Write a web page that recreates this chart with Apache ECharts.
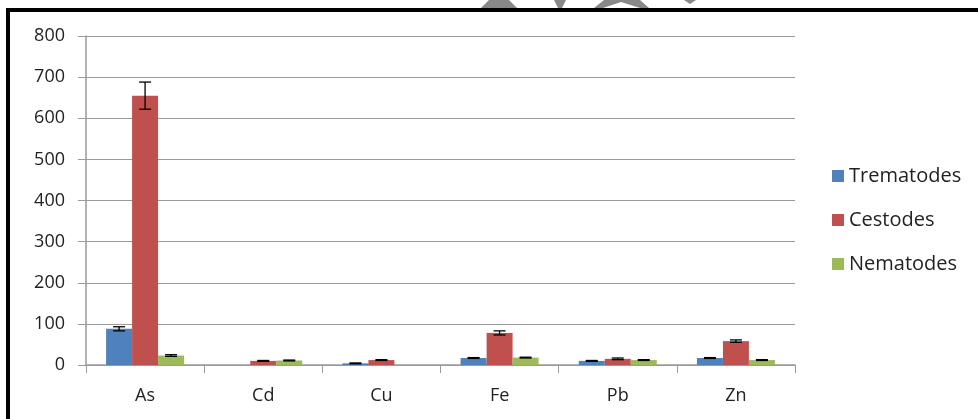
<!DOCTYPE html>
<html>
<head>
<meta charset="utf-8">
<script src="https://cdn.jsdelivr.net/npm/echarts@6/dist/echarts.min.js"></script>
<style>
  html, body { margin: 0; padding: 0; background: #fff; }
  #chart { width: 978px; height: 419px; }
</style>
</head>
<body>
<div id="chart"></div>
<script>
// metals on the x axis
const categories = ["As", "Cd", "Cu", "Fe", "Pb", "Zn"];
const seriesNames = ["Trematodes", "Cestodes", "Nematodes"];
const colors = ["#4F81BD", "#C0504D", "#9BBB59"];

// means
const trematodes = [88, 0, 4, 17, 10, 17];
const cestodes = [655, 10, 12, 78, 15, 58];
const nematodes = [23, 11, 0, 18, 12, 12];

// error bar half-lengths
const trematodesErr = [5, 0, 1, 1, 1, 1];
const cestodesErr = [33, 1, 1, 5, 2, 3];
const nematodesErr = [2, 1, 0, 1, 1, 1];

const yTicks = [0, 100, 200, 300, 400, 500, 600, 700, 800];

const values = [trematodes, cestodes, nematodes];
const errors = [trematodesErr, cestodesErr, nematodesErr];
const catGap = 0.34;

const chart = echarts.init(document.getElementById("chart"));

const barSeries = seriesNames.map((name, i) => ({
  name,
  type: "bar",
  data: values[i],
  barGap: "0%",
  barCategoryGap: "34%",
  itemStyle: { color: colors[i] },
  z: 2
}));

//误差线用custom画,值为0的不画
const errSeries = seriesNames.map((name, i) => ({
  type: "custom",
  name: name + "_err",
  data: values[i].map((v, k) => [k, v, errors[i][k]]),
  z: 5,
  silent: true,
  renderItem(params, api) {
    const k = api.value(0);
    const v = api.value(1);
    const e = api.value(2);
    if (!v || !e) return null;
    const catW = api.size([1, 0])[0];
    const bw = catW * (1 - catGap) / 3;
    const center = api.coord([k, v]);
    const x = center[0] + (i - 1) * bw;
    const top = api.coord([k, v + e])[1];
    const bot = api.coord([k, Math.max(v - e, 0)])[1];
    const half = 6;
    const style = { stroke: "#000", lineWidth: 1.3 };
    return {
      type: "group",
      children: [
        { type: "line", shape: { x1: x, y1: top, x2: x, y2: bot }, style },
        { type: "line", shape: { x1: x - half, y1: top, x2: x + half, y2: top }, style },
        { type: "line", shape: { x1: x - half, y1: bot, x2: x + half, y2: bot }, style }
      ]
    };
  }
}));

const option = {
  animation: false,
  textStyle: { fontFamily: "Open Sans" },
  grid: { left: 86, right: 183, top: 36, bottom: 54 },
  legend: {
    orient: "vertical",
    left: 827,
    top: 161,
    itemGap: 24,
    itemWidth: 12,
    itemHeight: 12,
    icon: "rect",
    data: seriesNames,
    textStyle: { fontSize: 20, color: "#222", fontFamily: "Open Sans" }
  },
  xAxis: {
    type: "category",
    data: categories,
    axisLine: { lineStyle: { color: "#9a9a9a", width: 1.5 } },
    axisTick: { show: true, length: 8, lineStyle: { color: "#9a9a9a" } },
    axisLabel: { fontSize: 18, color: "#222", margin: 22 }
  },
  yAxis: {
    type: "value",
    min: yTicks[0],
    max: yTicks[yTicks.length - 1],
    interval: 100,
    axisLine: { show: true, lineStyle: { color: "#9a9a9a", width: 1.5 } },
    axisTick: { show: true, length: 8, lineStyle: { color: "#9a9a9a" } },
    splitLine: { lineStyle: { color: "#9a9a9a", width: 1.2 } },
    axisLabel: { fontSize: 18, color: "#222", margin: 21 }
  },
  graphic: [
    // watermark bits peeking above the frame
    { type: "polygon", z: 0, shape: { points: [[481, 8], [489, 0], [509, 0], [517, 8]] }, style: { fill: "#888" } },
    { type: "polygon", z: 0, shape: { points: [[554, 0], [566, 0], [562, 8], [558, 8]] }, style: { fill: "#888" } },
    { type: "polygon", z: 0, shape: { points: [[594, 8], [604, 0], [640, 0], [649, 8], [640, 8], [621, 2], [603, 8]] }, style: { fill: "#888" } },
    { type: "polygon", z: 0, shape: { points: [[684, 0], [696, 0], [690, 4]] }, style: { fill: "#888" } },
    // black frame
    { type: "rect", z: 10, shape: { x: 8, y: 10, width: 1100, height: 600 }, style: { fill: "none", stroke: "#000", lineWidth: 4 } }
  ],
  series: barSeries.concat(errSeries)
};

chart.setOption(option);
</script>
</body>
</html>
